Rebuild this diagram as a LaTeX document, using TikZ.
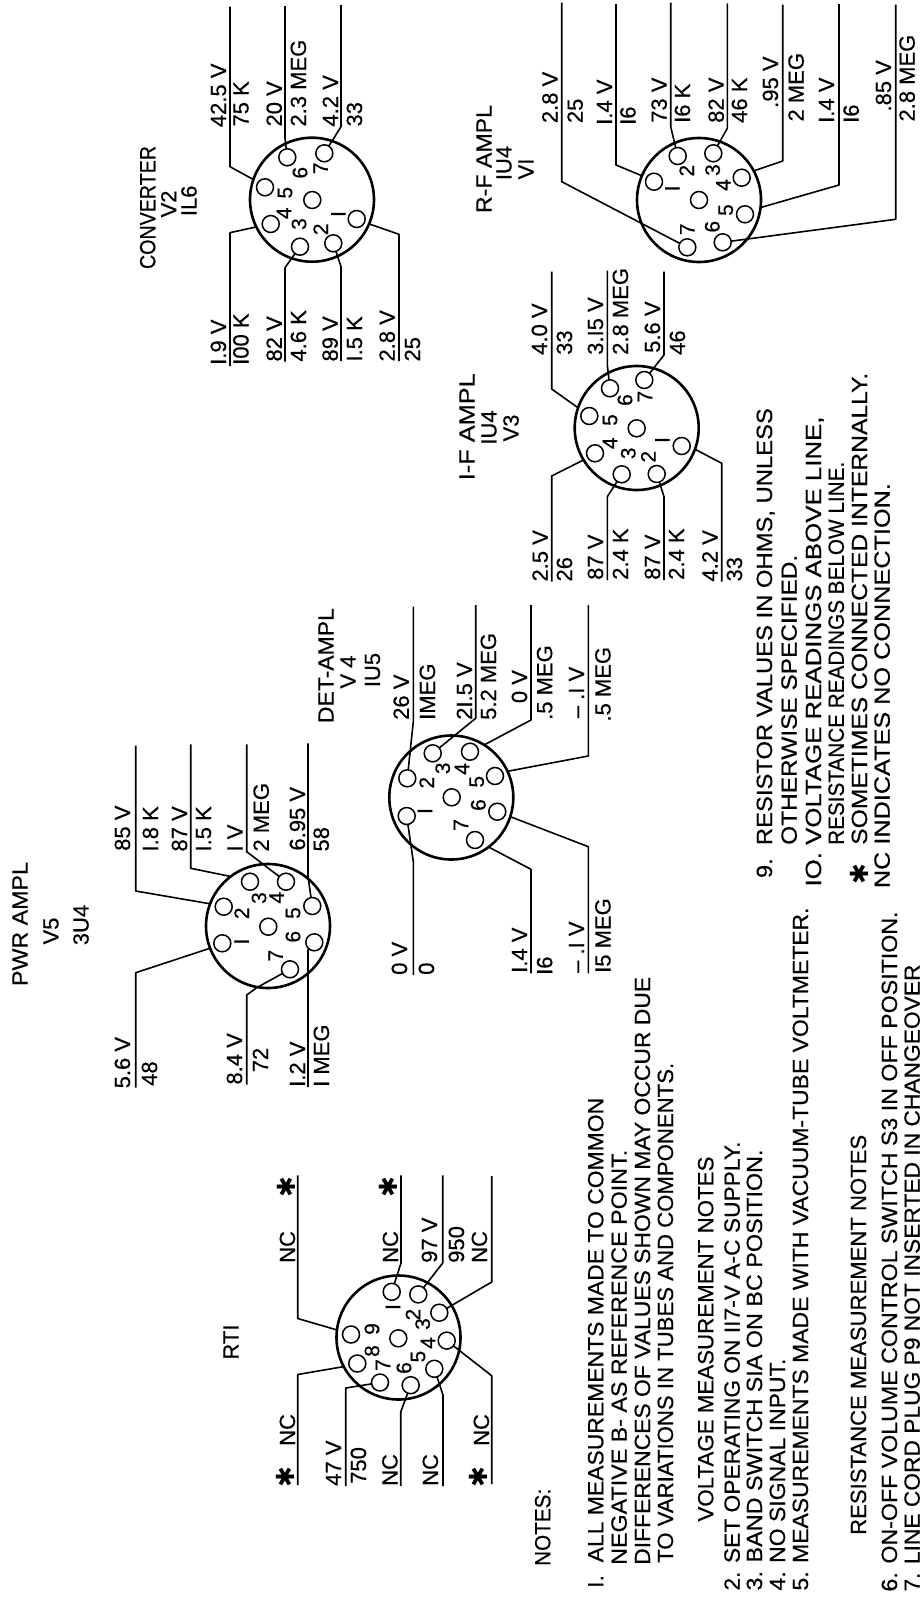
\documentclass[tikz,border=0pt]{standalone}
\usepackage{fontspec}
\usepackage{graphicx}
\setmainfont{Liberation Sans}[FakeBold=0.5]
\newfontfamily\symfont{DejaVu Sans}
\newcommand{\fitline}[2]{\resizebox{#1pt}{\height}{#2}}

\begin{document}
\begin{tikzpicture}[x=1pt, y=-1pt,
  wire/.style={line width=1.6pt, line join=round},
  tube/.style={draw, circle, line width=2.6pt, minimum size=124pt, inner sep=0pt, outer sep=0pt},
  pinhole/.style={draw, circle, line width=1.5pt, minimum size=17pt, inner sep=0pt, outer sep=0pt},
  reading/.style={rotate=90, anchor=west, inner sep=0pt, text height=16pt, text depth=0pt, font=\fontsize{22}{22}\selectfont},
  notetext/.style={reading},
  pinnum/.style={rotate=90, inner sep=0pt, font=\fontsize{21}{21}\selectfont},
  tubename/.style={rotate=90, inner sep=0pt, font=\fontsize{22}{22}\selectfont},
  star/.style={rotate=90, inner sep=0pt, font=\symfont\fontsize{25}{25}\selectfont}]
\useasboundingbox (0,0) rectangle (919,1598);

\node[tubename] (H1a) at (484,159) {\fitline{108}{R-F AMPL}};
\node[tubename] (H1b) at (504,163) {IU4};
\node[tubename] (H1c) at (526,169) {VI};
\node[tube] (T1) at (699,200) {};
\node[pinhole] (C1) at (699,200) {};
\node[pinhole] (P11) at (654,181.7) {};  \node[pinnum] (N11) at (672.3,188.3) {I};
\node[pinhole] (P12) at (677.7,156) {};  \node[pinnum] (N12) at (686.7,170.7) {2};
\node[pinhole] (P13) at (713.3,153.3) {};\node[pinnum] (N13) at (712.7,170) {3};
\node[pinhole] (P14) at (741.7,177.7) {};\node[pinnum] (N14) at (723.3,185) {4};
\node[pinhole] (P15) at (745,214.3) {};  \node[pinnum] (N15) at (725.7,210) {5};
\node[pinhole] (P16) at (722.7,242.3) {};\node[pinnum] (N16) at (712.3,226.7) {6};
\node[pinhole] (P17) at (687.3,247.3) {};\node[pinnum] (N17) at (687.3,229.3) {7};
\coordinate (E11) at (616,4);
\coordinate (E12) at (670.7,2.7);
\coordinate (E13) at (727.3,3.3);
\coordinate (E14) at (782.7,4.7);
\coordinate (E15) at (839,4);
\coordinate (E16) at (895.7,4.7);
\coordinate (E17) at (561.7,2.7);
\draw[wire] (T1.157) -- (616,165) -- (E11);
\draw[wire] (P12) -- (670.7,126.7) -- (E12);
\draw[wire] (P13) -- (727.3,128.3) -- (E13);
\draw[wire] (T1.28) -- (782.7,161) -- (E14);
\draw[wire] (T1.-7.5) -- (839,185) -- (E15);
\draw[wire] (P16) -- (895.7,219.3) -- (E16);
\draw[wire] (P17) -- (561.7,181.7) -- (E17);
\node[reading] (A17) at (549.5,123.3) {2.8 V};\node[reading] (B17) at (574.7,123.3) {25};
\node[reading] (A11) at (604,125) {I.4 V};    \node[reading] (B11) at (627.5,125) {I6};
\node[reading] (A12) at (658.7,123) {73 V};   \node[reading] (B12) at (682,123) {I6 K};
\node[reading] (A13) at (715.7,123) {82 V};   \node[reading] (B13) at (739,123) {46 K};
\node[reading] (A14) at (770,108) {.95 V};    \node[reading] (B14) at (795.7,121.7) {2 MEG};
\node[reading] (A15) at (826,123) {I.4 V};    \node[reading] (B15) at (850.7,123) {I6};
\node[reading] (A16) at (883,111.7) {.85 V};  \node[reading] (B16) at (906.7,121.7) {2.8 MEG};

\node[tubename] (H2a) at (147.7,207.5) {\fitline{123}{CONVERTER}};
\node[tubename] (H2b) at (168.7,204) {V2};
\node[tubename] (H2c) at (189,200.8) {IL6};
\node[tube] (T2) at (312,199.7) {};
\node[pinhole] (C2) at (312.3,200) {};
\node[pinhole] (P21) at (356.7,219) {};  \node[pinnum] (N21) at (338.3,214) {I};
\node[pinhole] (P22) at (333.3,243.3) {};\node[pinnum] (N22) at (320.7,229.3) {2};
\node[pinhole] (P23) at (300,246.7) {};  \node[pinnum] (N23) at (299,224) {3};
\node[pinhole] (P24) at (270.7,224) {};  \node[pinnum] (N24) at (284,213.3) {4};
\node[pinhole] (P25) at (265,187.3) {};  \node[pinnum] (N25) at (285,192.7) {5};
\node[pinhole] (P26) at (287.3,157.3) {};\node[pinnum] (N26) at (300,172.7) {6};
\node[pinhole] (P27) at (324.3,153.3) {};\node[pinnum] (N27) at (320.7,168.3) {7};
\coordinate (E21) at (399,361);
\coordinate (E22) at (341,361);
\coordinate (E23) at (285,361.7);
\coordinate (E24) at (230,366);
\coordinate (E25) at (230,6.7);
\coordinate (E26) at (285,6);
\coordinate (E27) at (341,5);
\draw[wire] (T2.-23) -- (399,234.3) -- (E21);
\draw[wire] (P22) -- (341,266.7) -- (E22);
\draw[wire] (P23) -- (285,267.7) -- (E23);
\draw[wire] (T2.206.6) -- (230,232.7) -- (E24);
\draw[wire] (T2.161.4) -- (230,166.7) -- (E25);
\draw[wire] (P26) -- (285,138.3) -- (E26);
\draw[wire] (P27) -- (341,126.7) -- (E27);
\node[reading] (A25) at (218,127.3) {42.5 V}; \node[reading] (B25) at (240.5,126.7) {75 K};
\node[reading] (A26) at (273.8,126.7) {20 V}; \node[reading] (B26) at (298,126.7) {2.3 MEG};
\node[reading] (A27) at (330,126.7) {4.2 V};  \node[reading] (B27) at (354,126.7) {33};
\node[reading] (A24) at (218,365) {I.9 V};    \node[reading] (B24) at (240.5,365) {I00 K};
\node[reading] (A23) at (273.8,361.7) {82 V}; \node[reading] (B23) at (298,361.7) {4.6 K};
\node[reading] (A22) at (329.7,361.7) {89 V}; \node[reading] (B22) at (354,361.7) {I.5 K};
\node[reading] (A21) at (386.7,361.7) {2.8 V};\node[reading] (B21) at (412,361.7) {25};

\node[tubename] (H3a) at (467,426.7) {\fitline{107}{I-F AMPL}};
\node[tubename] (H3b) at (489,427.5) {IU4};
\node[tubename] (H3c) at (511,428) {V3};
\node[tube] (T3) at (636.7,428) {};
\node[pinhole] (C3) at (636.7,428.3) {};
\node[pinhole] (P31) at (681.7,446) {};  \node[pinnum] (N31) at (662.3,440) {I};
\node[pinhole] (P32) at (656.7,474) {};  \node[pinnum] (N32) at (648.3,456.7) {2};
\node[pinhole] (P33) at (621.7,474.3) {};\node[pinnum] (N33) at (628.3,453.3) {3};
\node[pinhole] (P34) at (595,453.3) {};  \node[pinnum] (N34) at (610,443.3) {4};
\node[pinhole] (P35) at (589.3,416) {};  \node[pinnum] (N35) at (610,420) {5};
\node[pinhole] (P36) at (610,388.3) {};  \node[pinnum] (N36) at (625,400) {6};
\node[pinhole] (P37) at (644.3,380) {};  \node[pinnum] (N37) at (645,396.7) {7};
\coordinate (E31) at (721.7,581.7);
\coordinate (E32) at (664,580);
\coordinate (E33) at (607.3,580);
\coordinate (E34) at (551.7,581.7);
\coordinate (E35) at (551.7,271.7);
\coordinate (E36) at (607.3,270.7);
\coordinate (E37) at (664,271.7);
\draw[wire] (T3.-20.3) -- (721.7,463.3) -- (E31);
\draw[wire] (P32) -- (664,496.7) -- (E32);
\draw[wire] (P33) -- (607.3,496.7) -- (E33);
\draw[wire] (T3.211.5) -- (551.7,476) -- (E34);
\draw[wire] (T3.161.8) -- (551.7,389) -- (E35);
\draw[wire] (P36) -- (607.3,365) -- (E36);
\draw[wire] (P37) -- (664,355) -- (E37);
\node[reading] (A35) at (539,355) {4.0 V};    \node[reading] (B35) at (564,355) {33};
\node[reading] (A36) at (595,355) {3.I5 V};   \node[reading] (B36) at (620,355) {2.8 MEG};
\node[reading] (A37) at (652,353) {5.6 V};    \node[reading] (B37) at (677,355) {46};
\node[reading] (A34) at (539.7,581.7) {2.5 V};\node[reading] (B34) at (564,581.7) {26};
\node[reading] (A33) at (595,580) {87 V};     \node[reading] (B33) at (620,580) {2.4 K};
\node[reading] (A32) at (652,580) {87 V};     \node[reading] (B32) at (676,580) {2.4 K};
\node[reading] (A31) at (709.5,581.7) {4.2 V};\node[reading] (B31) at (734,581.7) {33};

\node[tubename] (H4a) at (326,665.6) {\fitline{115}{DET-AMPL}};
\node[tubename] (H4b) at (348,672) {V 4};
\node[tubename] (H4c) at (372.5,670) {IU5};
\node[tube] (T4) at (451.3,797.5) {};
\node[pinhole] (C4) at (451.7,797.3) {};
\node[pinhole] (P41) at (406.7,816) {};  \node[pinnum] (N41) at (425,811) {I};
\node[pinhole] (P42) at (407.3,778.3) {};\node[pinnum] (N42) at (426.7,782.7) {2};
\node[pinhole] (P43) at (432.7,753.3) {};\node[pinnum] (N43) at (442.7,768.3) {3};
\node[pinhole] (P44) at (470,751.7) {};  \node[pinnum] (N44) at (462,769) {4};
\node[pinhole] (P45) at (495,776) {};    \node[pinnum] (N45) at (476.7,781.7) {5};
\node[pinhole] (P46) at (497.3,811.7) {};\node[pinnum] (N46) at (478.3,805) {6};
\node[pinhole] (P47) at (475,840) {};    \node[pinnum] (N47) at (461,825) {7};
\coordinate (E41) at (413.3,975);
\coordinate (E42) at (413.3,606.7);
\coordinate (E43) at (475.7,605);
\coordinate (E44) at (531,605);
\coordinate (E45) at (588.3,605);
\coordinate (E46) at (588.3,973.3);
\coordinate (E47) at (531,973.3);
\draw[wire] (P41) -- (413.3,861.7) -- (E41);
\draw[wire] (P42) -- (413.3,721.7) -- (E42);
\draw[wire] (P43) -- (475.7,718.3) -- (E43);
\draw[wire] (T4.58) -- (531,720) -- (E44);
\draw[wire] (T4.25) -- (588.3,756) -- (E45);
\draw[wire] (T4.-18.6) -- (588.3,846.7) -- (E46);
\draw[wire] (T4.-53) -- (531,869.3) -- (E47);
\node[reading] (A42) at (400.8,720) {26 V};   \node[reading] (B42) at (427,720) {IMEG};
\node[reading] (A43) at (464,720) {2I.5 V};   \node[reading] (B43) at (488,720) {5.2 MEG};
\node[reading] (A44) at (519,703.3) {0 V};    \node[reading] (B44) at (544.2,720) {.5 MEG};
\node[reading] (A45) at (576,718.3) {– .I V}; \node[reading] (B45) at (602.5,721.7) {.5 MEG};
\node[reading] (A41) at (399,975) {0 V};      \node[reading] (B41) at (426,975) {0};
\node[reading] (A47) at (519,973) {I.4 V};    \node[reading] (B47) at (544.2,975) {I6};
\node[reading] (A46) at (576,973) {– .I V};   \node[reading] (B46) at (602.5,973) {I5 MEG};

\node[tubename] (H5a) at (20,924) {\fitline{124}{PWR AMPL}};
\node[tubename] (H5b) at (51,931) {V5};
\node[tubename] (H5c) at (81,925) {3U4};
\node[tube] (T5) at (268,926) {};
\node[pinhole] (C5) at (268.3,926.7) {};
\node[pinhole] (P51) at (222.3,943.3) {};\node[pinnum] (N51) at (241.7,941.7) {I};
\node[pinhole] (P52) at (223.7,906.7) {};\node[pinnum] (N52) at (241.7,913.3) {2};
\node[pinhole] (P53) at (250,881.7) {};  \node[pinnum] (N53) at (259,898) {3};
\node[pinhole] (P54) at (286,881.7) {};  \node[pinnum] (N54) at (276.7,897.7) {4};
\node[pinhole] (P55) at (312.3,906) {};  \node[pinnum] (N55) at (293,913) {5};
\node[pinhole] (P56) at (314.3,942.3) {};\node[pinnum] (N56) at (293,936.7) {6};
\node[pinhole] (P57) at (290,969.3) {};  \node[pinnum] (N57) at (275.7,955.7) {7};
\coordinate (E51) at (135.7,1087.7);
\coordinate (E52) at (135.7,745.7);
\coordinate (E53) at (190.7,744.3);
\coordinate (E54) at (246.7,744.3);
\coordinate (E55) at (308,743.3);
\coordinate (E56) at (308,1087);
\coordinate (E57) at (246.7,1084.7);
\draw[wire] (T5.201) -- (135.7,972.7) -- (E51);
\draw[wire] (T5.159) -- (135.7,891) -- (E52);
\draw[wire] (T5.127.6) -- (190.7,868.3) -- (E53);
\draw[wire] (P54) -- (246.7,851.7) -- (E54);
\draw[wire] (P55) -- (308,876.7) -- (E55);
\draw[wire] (P56) -- (308,950) -- (E56);
\draw[wire] (P57) -- (256.7,987.7) -- (246.7,995) -- (E57);
\node[reading] (A52) at (122,851) {85 V};     \node[reading] (B52) at (150,851.7) {I.8 K};
\node[reading] (A53) at (179,851.7) {87 V};   \node[reading] (B53) at (203,851.7) {I.5 K};
\node[reading] (A54) at (234.5,851.7) {I V};  \node[reading] (B54) at (260.8,851.7) {2 MEG};
\node[reading] (A55) at (297,850.7) {6.95 V}; \node[reading] (B55) at (320.8,851.7) {58};
\node[reading] (A51) at (122,1088.5) {5.6 V}; \node[reading] (B51) at (149,1086) {48};
\node[reading] (A57) at (234,1084.7) {8.4 V}; \node[reading] (B57) at (260,1072.5) {72};
\node[reading] (A56) at (297,1087) {I.2 V};   \node[reading] (B56) at (321,1087) {I MEG};

\node[tubename] (H6a) at (231,1342) {RTI};
\node[tube] (T6) at (398.5,1337.5) {};
\node[pinhole] (C6) at (398.3,1338.3) {};
\node[pinhole] (P61) at (391.7,1291.8) {};\node[pinnum] (N61) at (393,1307) {I};
\node[pinhole] (P62) at (418.3,1294.4) {};\node[pinnum] (N62) at (413,1314.6) {2};
\node[pinhole] (P63) at (439.3,1312.7) {};\node[pinnum] (N63) at (422.7,1324) {3};
\node[pinhole] (P64) at (446.7,1340.6) {};\node[pinnum] (N64) at (428,1343) {4};
\node[pinhole] (P65) at (434.3,1368.8) {};\node[pinnum] (N65) at (418,1356.6) {5};
\node[pinhole] (P66) at (410.7,1385.2) {};\node[pinnum] (N66) at (404,1368) {6};
\node[pinhole] (P67) at (380,1382.5) {};  \node[pinnum] (N67) at (383,1365) {7};
\node[pinhole] (P68) at (357.3,1363.5) {};\node[pinnum] (N68) at (372,1351) {8};
\node[pinhole] (P69) at (351,1334.5) {};  \node[pinnum] (N69) at (372,1329) {9};
\coordinate (E61) at (401,1175.4);
\coordinate (E62) at (442.7,1175.4);
\coordinate (E63) at (491.7,1176);
\coordinate (E64) at (491.7,1484);
\coordinate (E65) at (443,1486);
\coordinate (E66) at (400.7,1486);
\coordinate (E67) at (345.7,1486);
\coordinate (E68) at (297.7,1485);
\coordinate (E69) at (297.7,1175.4);
\draw[wire] (P61) -- (401,1263) -- (E61);
\draw[wire] (P62) -- (442.7,1263) -- (E62);
\draw[wire] (P63) -- (491.7,1282) -- (E63);
\draw[wire] (P64) -- (491.7,1375.7) -- (E64);
\draw[wire] (P65) -- (443,1395) -- (E65);
\draw[wire] (P66) -- (400.7,1412) -- (E66);
\draw[wire] (P67) -- (345.7,1388) -- (E67);
\draw[wire] (T6.208.4) -- (297.7,1374.5) -- (E68);
\draw[wire] (T6.173) -- (297.7,1318.5) -- (E69);
\node[reading] (A69) at (287,1263) {NC};      \node[star] (S69) at (286,1187) {✱};
\node[reading] (A61) at (390,1263) {NC};      \node[star] (S61) at (388,1187) {✱};
\node[reading] (A62) at (429,1263) {97 V};    \node[reading] (B62) at (456,1263) {950};
\node[reading] (A63) at (479,1263) {NC};
\node[reading] (A68) at (287,1446) {NC};      \node[star] (S68) at (285,1477.5) {✱};
\node[reading] (A67) at (333,1486) {47 V};    \node[reading] (B67) at (358,1484) {750};
\node[reading] (A66) at (389.5,1486) {NC};
\node[reading] (A65) at (430,1486) {NC};
\node[reading] (A64) at (481,1446) {NC};      \node[star] (S64) at (478,1477.5) {✱};

\node[notetext] (L0) at (542.3,1566) {\fitline{77}{NOTES:}};
\node[notetext] (L1) at (595.3,1588) {\fitline{490}{I.\ \ ALL MEASUREMENTS MADE TO COMMON}};
\node[notetext] (L1b) at (618.7,1565) {\fitline{415}{NEGATIVE B- AS REFERENCE POINT.}};
\node[notetext] (L1c) at (642,1565) {\fitline{588}{DIFFERENCES OF VALUES SHOWN MAY OCCUR DUE}};
\node[notetext] (L1d) at (665,1563) {\fitline{500}{TO VARIATIONS IN TUBES AND COMPONENTS.}};
\node[notetext] (Lv) at (705.3,1521.7) {\fitline{365}{VOLTAGE MEASUREMENT NOTES}};
\node[notetext] (L2) at (731.7,1590.7) {\fitline{449}{2. SET OPERATING ON II7-V A-C SUPPLY.}};
\node[notetext] (L3) at (754,1590.7) {\fitline{441}{3. BAND SWITCH SIA ON BC POSITION.}};
\node[notetext] (L4) at (777,1590.7) {\fitline{232}{4. NO SIGNAL INPUT.}};
\node[notetext] (L5) at (800,1590.7) {\fitline{683}{5. MEASUREMENTS MADE WITH VACUUM-TUBE VOLTMETER.}};
\node[notetext] (Lr) at (858,1535) {\fitline{400}{RESISTANCE MEASUREMENT NOTES}};
\node[notetext] (L6) at (889,1591.7) {\fitline{680}{6. ON-OFF VOLUME CONTROL SWITCH S3 IN OFF POSITION.}};
\node[notetext] (L7) at (911.7,1591.7) {\fitline{627}{7. LINE CORD PLUG P9 NOT INSERTED IN CHANGEOVER}};
\node[notetext] (L9) at (764,878.3) {\fitline{470}{9.\ \ RESISTOR VALUES IN OHMS, UNLESS}};
\node[notetext] (L9b) at (788.7,845) {\fitline{290}{OTHERWISE SPECIFIED.}};
\node[notetext] (L10) at (813,886.7) {\fitline{470}{IO. VOLTAGE READINGS ABOVE LINE,}};
\node[notetext] (L10b) at (835.8,845) {\fitline{383}{RESISTANCE READINGS BELOW LINE.}};
\node[star] (Ls) at (859.3,874) {✱};
\node[notetext] (Ls2) at (859,845) {\fitline{472}{SOMETIMES CONNECTED INTERNALLY.}};
\node[notetext] (Ln) at (881.7,888.3) {\fitline{405}{NC INDICATES NO CONNECTION.}};
\end{tikzpicture}
\end{document}
